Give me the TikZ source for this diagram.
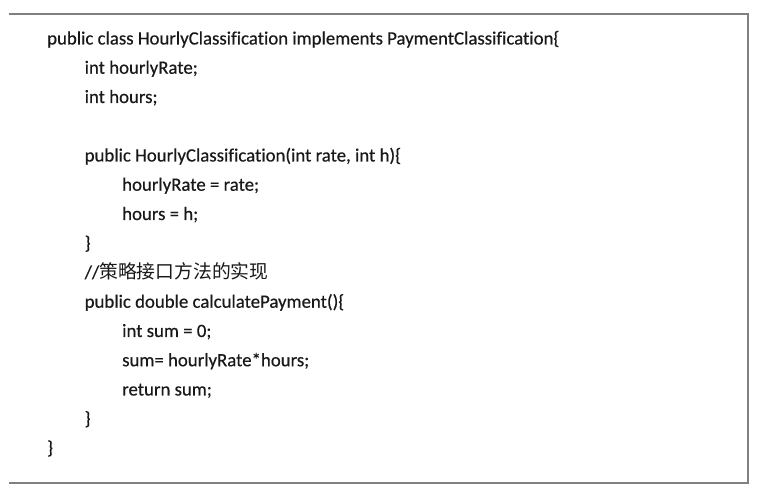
\documentclass[tikz,border=0pt]{standalone}
\usepackage{fontspec}
\setmainfont{Carlito}[Ligatures=NoCommon,FakeBold=0.4]
\newfontfamily\cjk{Noto Sans CJK SC}
\begin{document}
\begin{tikzpicture}[x=1pt,y=1pt,
  code/.style={anchor=base west,inner sep=0pt,font=\fontsize{18.8}{20}\selectfont,text=black!90},
  frameline/.style={draw=black!50,line width=2pt}]
\useasboundingbox (0,0) rectangle (759,494);
\fill[white] (0,0) rectangle (759,494);
\coordinate (tl) at (9,480);
\coordinate (tr) at (748,480);
\coordinate (br) at (748,10.5);
\coordinate (bl) at (9,10.5);
\draw[frameline] (tl) -- (tr) -- (br) -- (bl);
\def\lx{47}\def\ly{84.5}\def\lz{122}
\newcommand{\myrow}[1]{494-44.5-29.25*(#1-1)}
\node[code] (l1) at (\lx,{\myrow{1}}) {public class HourlyClassification implements PaymentClassification\{};
\node[code] (l2) at (\ly,{\myrow{2}}) {int hourlyRate;};
\node[code] (l3) at (\ly,{\myrow{3}}) {int hours;};
\node[code] (l5) at (\ly,{\myrow{5}}) {public HourlyClassification(int rate, int h)\{};
\node[code] (l6) at (\lz,{\myrow{6}}) {hourlyRate = rate;};
\node[code] (l7) at (\lz,{\myrow{7}}) {hours = h;};
\node[code] (l8) at (\ly,{\myrow{8}}) {\}};
\node[code] (l9) at (\ly,{\myrow{9}}) {//{\cjk 策略接口方法的实现}};
\node[code] (l10) at (\ly,{\myrow{10}}) {public double calculatePayment()\{};
\node[code] (l11) at (\lz,{\myrow{11}}) {int sum = 0;};
\node[code] (l12) at (\lz,{\myrow{12}}) {sum= hourlyRate*hours;};
\node[code] (l13) at (\lz,{\myrow{13}}) {return sum;};
\node[code] (l14) at (\ly,{\myrow{14}}) {\}};
\node[code] (l15) at (\lx,{\myrow{15}}) {\}};
\end{tikzpicture}
\end{document}
